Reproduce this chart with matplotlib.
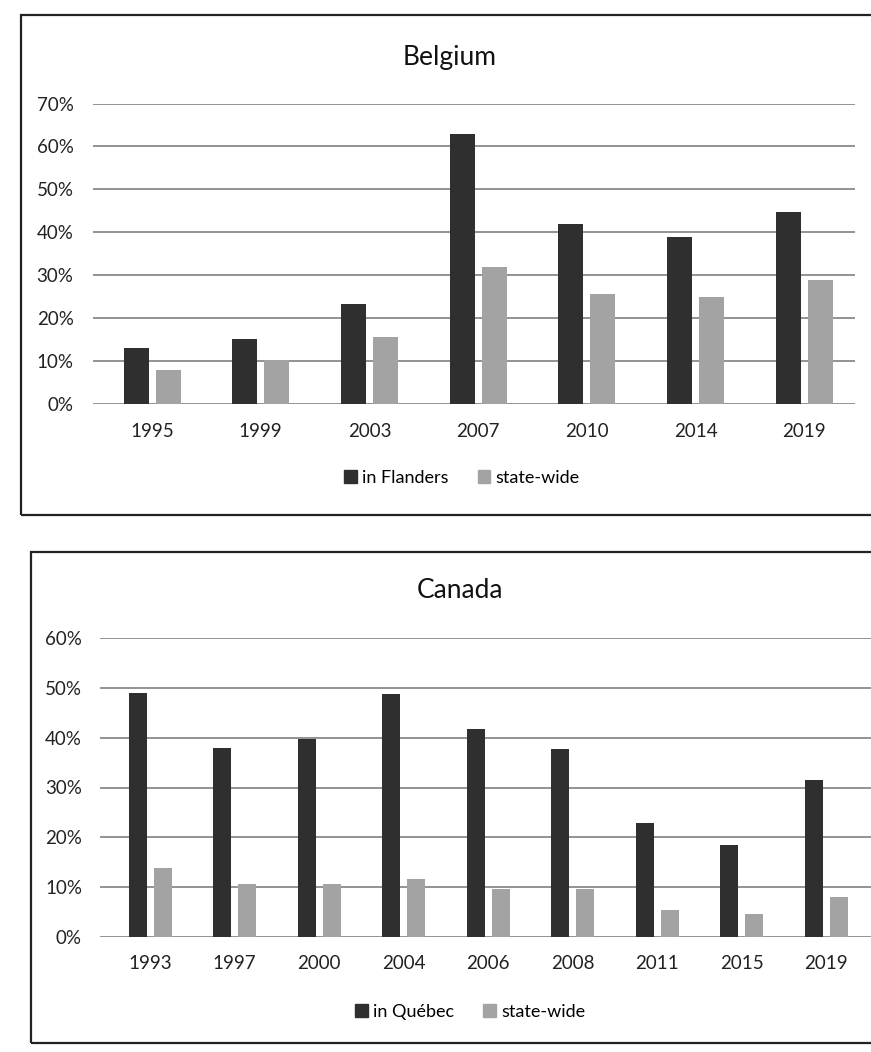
import matplotlib
matplotlib.use("Agg")
import matplotlib.pyplot as plt
from matplotlib.patches import Rectangle, Patch
import numpy as np

plt.rcParams['font.family'] = ['Lato', 'DejaVu Sans']

# ---- data ----
years_be = ["1995", "1999", "2003", "2007", "2010", "2014", "2019"]
flanders = [13.0, 15.2, 23.3, 63.0, 42.0, 39.0, 44.8]
statewide_be = [8.0, 10.2, 15.5, 31.8, 25.7, 24.9, 28.8]

years_ca = ["1993", "1997", "2000", "2004", "2006", "2008", "2011", "2015", "2019"]
quebec = [48.9, 37.9, 39.7, 48.7, 41.7, 37.7, 22.9, 18.5, 31.6]
statewide_ca = [13.9, 10.7, 10.6, 11.6, 9.7, 9.7, 5.5, 4.6, 8.0]

legend_be = ["in Flanders", "state-wide"]
legend_ca = ["in Québec", "state-wide"]

DARK = "#2f2f2f"
LIGHT = "#a3a3a3"
GRID = "#8a8a8a"

W, H = 871, 1052
fig = plt.figure(figsize=(W / 100, H / 100), dpi=100)
fig.patch.set_facecolor("white")


def px_axes(left, top, right, bottom):
    return fig.add_axes([left / W, 1 - bottom / H, (right - left) / W, (bottom - top) / H])


def draw_panel(ax, cats, s1, s2, ymax, c0, step, left_px, right_px, ypad, xpad):
    x = np.arange(len(cats))
    bw = 25 / 108.7 if step > 100 else 18 / 84.5
    off = 16 / 108.7 if step > 100 else 12.5 / 84.5
    ax.bar(x - off, s1, width=bw, color=DARK, zorder=3)
    ax.bar(x + off, s2, width=bw, color=LIGHT, zorder=3)
    ax.set_xlim((left_px - c0) / step, (right_px - c0) / step)
    ax.set_ylim(0, ymax)
    ax.set_yticks(np.arange(0, ymax + 1, 10))
    ax.set_yticklabels([f"{v}%" for v in range(0, ymax + 1, 10)])
    ax.set_xticks(x)
    ax.set_xticklabels(cats)
    ax.grid(axis="y", color=GRID, linewidth=1.3, zorder=0)
    ax.set_axisbelow(True)
    for s in ax.spines.values():
        s.set_visible(False)
    ax.tick_params(axis="y", length=0, pad=xpad, labelsize=13.5, colors="#222222")
    ax.tick_params(axis="x", length=0, pad=ypad, labelsize=13.5, colors="#222222")
    ax.set_facecolor("none")


# ---- frames ----
fig.patches.append(Rectangle((21 / W, 1 - 515 / H), 1.0, (515 - 15) / H,
                             transform=fig.transFigure, fill=False,
                             edgecolor="#222222", linewidth=1.6, clip_on=False))
fig.patches.append(Rectangle((31 / W, 1 - 1043 / H), 1.0, (1043 - 552) / H,
                             transform=fig.transFigure, fill=False,
                             edgecolor="#222222", linewidth=1.6, clip_on=False))

# ---- Belgium ----
ax1 = px_axes(93, 103.5, 855, 404)
draw_panel(ax1, years_be, flanders, statewide_be, 70, 152, 108.7, 93, 855, 14, 14)
fig.text(450 / W, 1 - 57 / H, "Belgium", ha="center", va="center", fontsize=19, color="#111111")
fig.legend(handles=[Patch(color=DARK), Patch(color=LIGHT)], labels=legend_be,
           loc="center", bbox_to_anchor=(462 / W, 1 - 478 / H), ncol=2, frameon=False,
           fontsize=13, handlelength=0.7, handleheight=0.7, handletextpad=0.3,
           columnspacing=1.6)

# ---- Canada ----
ax2 = px_axes(100, 638, 871, 937)
draw_panel(ax2, years_ca, quebec, statewide_ca, 60, 150, 84.5, 100, 871, 13, 13)
fig.text(460 / W, 1 - 590 / H, "Canada", ha="center", va="center", fontsize=19, color="#111111")
fig.legend(handles=[Patch(color=DARK), Patch(color=LIGHT)], labels=legend_ca,
           loc="center", bbox_to_anchor=(470 / W, 1 - 1012 / H), ncol=2, frameon=False,
           fontsize=13, handlelength=0.7, handleheight=0.7, handletextpad=0.3,
           columnspacing=1.6)

fig.savefig("out.png", dpi=100, facecolor="white")
